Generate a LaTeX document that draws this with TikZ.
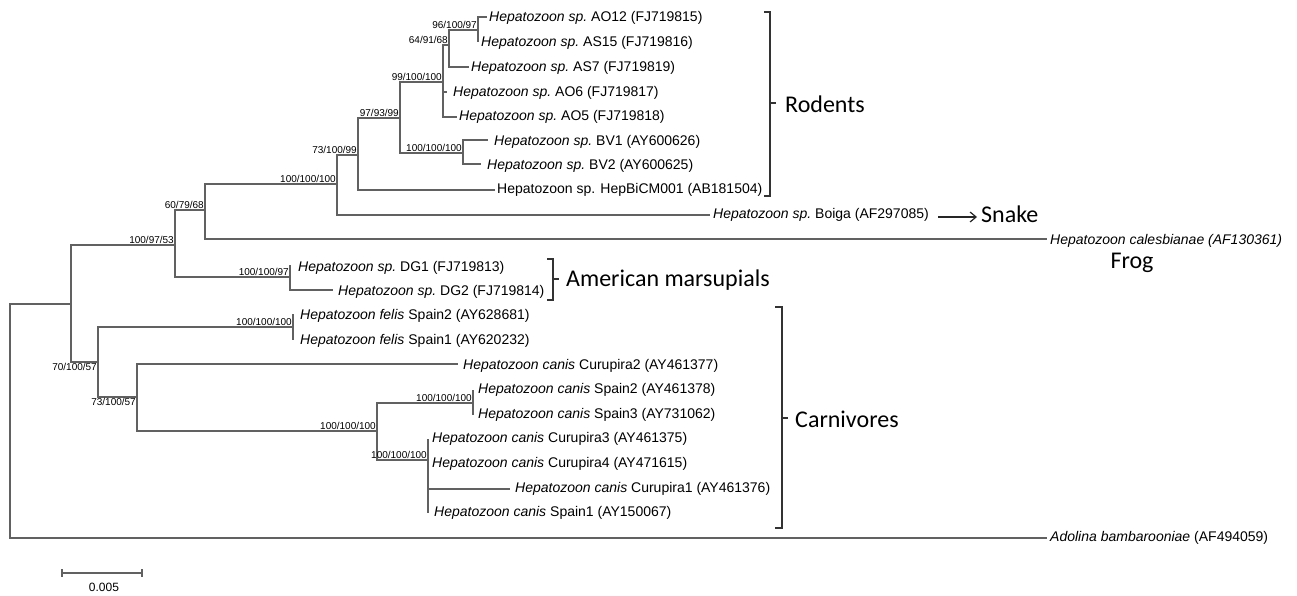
\documentclass[tikz,border=0pt]{standalone}
\usepackage{fontspec}
\setmainfont{Liberation Sans}
\newfontfamily\grpfont{Carlito}
\usetikzlibrary{arrows.meta}
\begin{document}
\begin{tikzpicture}[x=1pt,y=-1pt,
  br/.style={draw=black!62, line width=1.2pt},
  tax/.style={anchor=west, inner sep=0pt, font=\fontsize{14}{14}\selectfont},
  bs/.style={inner sep=1pt, font=\fontsize{10}{10}\selectfont},
  grp/.style={anchor=west, inner sep=0pt, font=\grpfont\fontsize{24}{24}\selectfont},
  brk/.style={draw=black!80, line width=1.3pt}]
\useasboundingbox[fill=white] (0,0) rectangle (1297,596);
% internal nodes
\coordinate (R) at (10,421);
\coordinate (A) at (71,304);
\coordinate (B) at (175,245);
\coordinate (D) at (205,210);
\coordinate (F) at (337,184);
\coordinate (G) at (358,155);
\coordinate (H) at (400,118);
\coordinate (I) at (443,82);
\coordinate (K) at (449,45);
\coordinate (L) at (478,30);
\coordinate (J) at (463,153);
\coordinate (E) at (290,277);
\coordinate (C) at (98,362);
\coordinate (M) at (293,327);
\coordinate (N) at (137,397);
\coordinate (O) at (377,431);
\coordinate (P) at (473,403);
\coordinate (Q) at (428,460);
% tips
\coordinate (tAO12) at (487,17);
\coordinate (tAS15) at (478,42);
\coordinate (tAS7) at (469,67);
\coordinate (tAO6) at (447,92);
\coordinate (tAO5) at (457,117);
\coordinate (tBV1) at (488,140);
\coordinate (tBV2) at (481,164);
\coordinate (tHep) at (495,190);
\coordinate (tBoi) at (710,215);
\coordinate (tCal) at (1047,239);
\coordinate (tDG1) at (290,265);
\coordinate (tDG2) at (333,290);
\coordinate (tFe2) at (293,314);
\coordinate (tFe1) at (293,340);
\coordinate (tCu2) at (458,364);
\coordinate (tSp2) at (473,390);
\coordinate (tSp3) at (473,415);
\coordinate (tCu3) at (428,439);
\coordinate (tCu4) at (428,464);
\coordinate (tCu1) at (510,489);
\coordinate (tSp1) at (428,513);
\coordinate (tAdo) at (1047,538);
% branches
\draw[br] (R) |- (A); \draw[br] (R) |- (tAdo);
\draw[br] (A) |- (B); \draw[br] (A) |- (C);
\draw[br] (B) |- (D); \draw[br] (B) |- (E);
\draw[br] (D) |- (F); \draw[br] (D) |- (tCal);
\draw[br] (F) |- (G); \draw[br] (F) |- (tBoi);
\draw[br] (G) |- (H); \draw[br] (G) |- (tHep);
\draw[br] (H) |- (I); \draw[br] (H) |- (J);
\draw[br] (I) |- (K); \draw[br] (I) |- (tAO6); \draw[br] (I) |- (tAO5);
\draw[br] (K) |- (L); \draw[br] (K) |- (tAS7);
\draw[br] (L) |- (tAO12); \draw[br] (L) |- (tAS15);
\draw[br] (J) |- (tBV1); \draw[br] (J) |- (tBV2);
\draw[br] (E) |- (tDG1); \draw[br] (E) |- (tDG2);
\draw[br] (C) |- (M); \draw[br] (C) |- (N);
\draw[br] (M) |- (tFe2); \draw[br] (M) |- (tFe1);
\draw[br] (N) |- (tCu2); \draw[br] (N) |- (O);
\draw[br] (O) |- (P); \draw[br] (O) |- (Q);
\draw[br] (P) |- (tSp2); \draw[br] (P) |- (tSp3);
\draw[br] (Q) |- (tCu3); \draw[br] (Q) |- (tCu4); \draw[br] (Q) |- (tCu1); \draw[br] (Q) |- (tSp1);
% taxon labels
\node[tax] (nAO12) at (489,18) {\itshape Hepatozoon sp.\upshape\ AO12 (FJ719815)};
\node[tax] (nAS15) at (481,43) {\itshape Hepatozoon sp.\upshape\ AS15 (FJ719816)};
\node[tax] (nAS7) at (471,68) {\itshape Hepatozoon sp.\upshape\ AS7 (FJ719819)};
\node[tax] (nAO6) at (453,93) {\itshape Hepatozoon sp.\upshape\ AO6 (FJ719817)};
\node[tax] (nAO5) at (459,117) {\itshape Hepatozoon sp.\upshape\ AO5 (FJ719818)};
\node[tax] (nBV1) at (494,142) {\itshape Hepatozoon sp.\upshape\ BV1 (AY600626)};
\node[tax] (nBV2) at (487,166) {\itshape Hepatozoon sp.\upshape\ BV2 (AY600625)};
\node[tax] (nHep) at (497,190) {Hepatozoon sp. HepBiCM001 (AB181504)};
\node[tax] (nBoi) at (713,215) {\itshape Hepatozoon sp.\upshape\ Boiga (AF297085)};
\node[tax] (nCal) at (1050,241) {\itshape Hepatozoon calesbianae (AF130361)};
\node[tax] (nDG1) at (298,268) {\itshape Hepatozoon sp.\upshape\ DG1 (FJ719813)};
\node[tax] (nDG2) at (338,292) {\itshape Hepatozoon sp.\upshape\ DG2 (FJ719814)};
\node[tax] (nFe2) at (300,316) {\itshape Hepatozoon felis\upshape\ Spain2 (AY628681)};
\node[tax] (nFe1) at (300,341) {\itshape Hepatozoon felis\upshape\ Spain1 (AY620232)};
\node[tax] (nCu2) at (463,366) {\itshape Hepatozoon canis\upshape\ Curupira2 (AY461377)};
\node[tax] (nSp2) at (478,390) {\itshape Hepatozoon canis\upshape\ Spain2 (AY461378)};
\node[tax] (nSp3) at (478,415) {\itshape Hepatozoon canis\upshape\ Spain3 (AY731062)};
\node[tax] (nCu3) at (432,439) {\itshape Hepatozoon canis\upshape\ Curupira3 (AY461375)};
\node[tax] (nCu4) at (432,464) {\itshape Hepatozoon canis\upshape\ Curupira4 (AY471615)};
\node[tax] (nCu1) at (515,489) {\itshape Hepatozoon canis\upshape\ Curupira1 (AY461376)};
\node[tax] (nSp1) at (434,513) {\itshape Hepatozoon canis\upshape\ Spain1 (AY150067)};
\node[tax] (nAdo) at (1050,538) {\itshape Adolina bambarooniae\upshape\ (AF494059)};
% bootstrap labels
\node[bs, anchor=south east] (bL) at (L) {96/100/97};
\node[bs, anchor=south east] (bK) at (K) {64/91/68};
\node[bs, anchor=south east] (bI) at (I) {99/100/100};
\node[bs, anchor=south east] (bH) at (H) {97/93/99};
\node[bs, anchor=south east] (bJ) at (J) {100/100/100};
\node[bs, anchor=south east] (bG) at (G) {73/100/99};
\node[bs, anchor=south east] (bF) at (F) {100/100/100};
\node[bs, anchor=south east] (bD) at (D) {60/79/68};
\node[bs, anchor=south east] (bB) at (B) {100/97/53};
\node[bs, anchor=south east] (bE) at (E) {100/100/97};
\node[bs, anchor=south east] (bM) at (M) {100/100/100};
\node[bs, anchor=north east] (bC) at (C) {70/100/57};
\node[bs, anchor=north east] (bN) at (N) {73/100/57};
\node[bs, anchor=south east] (bO) at (O) {100/100/100};
\node[bs, anchor=south east] (bP) at (P) {100/100/100};
\node[bs, anchor=south east] (bQ) at (Q) {100/100/100};
% group brackets
\draw[brk] (764,12) -- (770,12) -- (770,196) -- (764,196);
\draw[brk] (770,103) -- (776,103);
\node[grp] (rod) at (785,104) {Rodents};
\draw[brk] (547,259) -- (553,259) -- (553,300) -- (547,300);
\draw[brk] (553,279) -- (559,279);
\node[grp] (mar) at (566,280) {American marsupials};
\draw[brk] (775,307) -- (782,307) -- (782,528) -- (775,528);
\draw[brk] (782,418) -- (788,418);
\node[grp] (car) at (795,419) {Carnivores};
\coordinate (sa) at (938,217);
\node[grp] (snake) at (981,214) {Snake};
\draw[black!85, line width=1.2pt, -{Straight Barb[length=6pt,width=10pt]}, shorten >=4pt] (sa) -- (snake.west |- sa);
\node[grp, anchor=center] (frog) at (1132,263) {Frog};
% scale bar
\coordinate (s1) at (62,573);
\coordinate (s2) at (142,573);
\draw[br] (s1) -- (s2);
\draw[br] ([yshift=4pt]s1) -- ([yshift=-4pt]s1);
\draw[br] ([yshift=4pt]s2) -- ([yshift=-4pt]s2);
\node[font=\fontsize{12}{12}\selectfont, inner sep=0pt] (sc) at (104,587) {0.005};
\end{tikzpicture}
\end{document}
